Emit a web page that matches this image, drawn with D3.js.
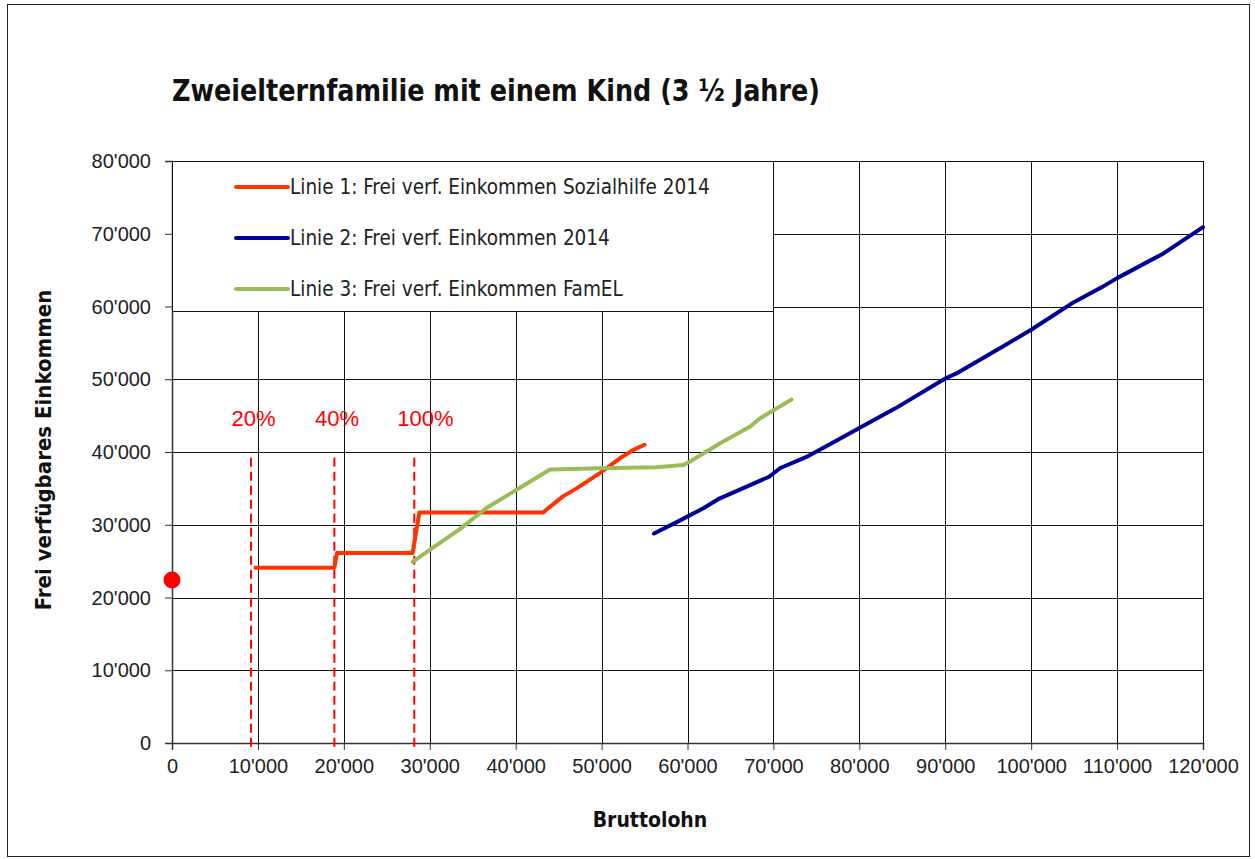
<!DOCTYPE html>
<html>
<head>
<meta charset="utf-8">
<script src="https://cdn.jsdelivr.net/npm/d3@7/dist/d3.min.js"></script>
<style>
  html, body { margin: 0; padding: 0; background: #fff; }
  svg { display: block; }
</style>
</head>
<body>
<svg id="chart" width="1255" height="859"></svg>
<script>
// Tick values for both axes
const xTicks = [0, 10000, 20000, 30000, 40000, 50000, 60000, 70000, 80000, 90000, 100000, 110000, 120000];
const yTicks = [0, 10000, 20000, 30000, 40000, 50000, 60000, 70000, 80000];

// Series: [Bruttolohn, frei verfügbares Einkommen]
const linie1 = [
  [9700, 24100], [18900, 24100], [19200, 26100], [28000, 26100], [28800, 31700],
  [43200, 31700], [45500, 33900], [47100, 35000], [49800, 37100], [52100, 39100],
  [53700, 40300], [55000, 41000]
];
const linie2 = [
  [56100, 28800], [58800, 30400], [61900, 32300], [63700, 33600], [69500, 36600],
  [70800, 37800], [74000, 39400], [77100, 41400], [80000, 43300], [84200, 46000],
  [90000, 50100], [91300, 50800], [96700, 54500], [100000, 56800], [104700, 60400],
  [108300, 62700], [110000, 63900], [115400, 67300], [120000, 70900]
];
const linie3 = [
  [28000, 24900], [33500, 29400], [36600, 32300], [40100, 34800], [44000, 37600],
  [49800, 37750], [56400, 37900], [59500, 38200], [60300, 38700], [63800, 41200],
  [67300, 43500], [68400, 44600], [72100, 47200]
];

// Income at zero earnings
const startPoint = [0, 22400];

// Threshold markers (dashed) and their labels
const thresholds = [9200, 18900, 28200];
const thresholdLabels = ["20%", "40%", "100%"];
const thresholdLabelX = [9500, 19200, 29500];
const thresholdLabelY = 43600;
const thresholdSpan = [-900, 39200];

const legendLabels = [
  "Linie 1: Frei verf. Einkommen Sozialhilfe 2014",
  "Linie 2: Frei verf. Einkommen 2014",
  "Linie 3: Frei verf. Einkommen FamEL"
];
const seriesColors = ["#ff3300", "#000099", "#9bbb59"];

const svg = d3.select("#chart");
const margin = { left: 172, top: 161, width: 1031, height: 582 };

const x = d3.scaleLinear().domain([0, 120000]).range([margin.left, margin.left + margin.width]);
const y = d3.scaleLinear().domain([0, 80000]).range([margin.top + margin.height, margin.top]);

const fmt = v => v === 0 ? "0" : d3.format(",")(v).replace(/,/g, "'");

// Outer frame
svg.append("rect")
  .attr("x", 7.5).attr("y", 4.5).attr("width", 1242).attr("height", 852)
  .attr("fill", "#fff").attr("stroke", "#222").attr("stroke-width", 1);

// Title
svg.append("text")
  .attr("x", 172).attr("y", 101)
  .attr("font-family", "'DejaVu Sans Condensed', 'DejaVu Sans', sans-serif")
  .attr("font-weight", "bold").attr("font-size", 30)
  .attr("textLength", 648).attr("lengthAdjust", "spacingAndGlyphs")
  .attr("fill", "#111")
  .text("Zweielternfamilie mit einem Kind (3 ½ Jahre)");

// Gridlines
const grid = svg.append("g").attr("stroke", "#111").attr("stroke-width", 1);
grid.selectAll("line.h").data(yTicks).join("line")
  .attr("class", "h")
  .attr("x1", margin.left).attr("x2", margin.left + margin.width)
  .attr("y1", d => Math.round(y(d)) + 0.5).attr("y2", d => Math.round(y(d)) + 0.5);
grid.selectAll("line.v").data(xTicks).join("line")
  .attr("class", "v")
  .attr("x1", d => Math.round(x(d)) + 0.5).attr("x2", d => Math.round(x(d)) + 0.5)
  .attr("y1", margin.top).attr("y2", margin.top + margin.height);

// Axes
const xAxis = d3.axisBottom(x).tickValues(xTicks).tickFormat(fmt).tickSize(7).tickPadding(6);
const yAxis = d3.axisLeft(y).tickValues(yTicks).tickFormat(fmt).tickSize(7).tickPadding(14);

const gx = svg.append("g").attr("transform", `translate(0,${margin.top + margin.height})`).call(xAxis);
const gy = svg.append("g").attr("transform", `translate(${margin.left},0)`).call(yAxis);
[gx, gy].forEach(g => {
  g.select(".domain").attr("stroke", "#333").attr("stroke-width", 1.5);
  g.selectAll(".tick line").attr("stroke", "#333");
  g.selectAll("text")
    .attr("font-family", "'Liberation Sans', Arial, sans-serif")
    .attr("font-size", 20).attr("fill", "#222");
});
gx.selectAll("text").attr("dy", "0.85em");
gy.selectAll("text").attr("dy", "0.33em");

// Axis titles
svg.append("text")
  .attr("x", 650).attr("y", 827)
  .attr("text-anchor", "middle")
  .attr("font-family", "'DejaVu Sans Condensed', 'DejaVu Sans', sans-serif")
  .attr("font-weight", "bold").attr("font-size", 21).attr("fill", "#111")
  .text("Bruttolohn");

svg.append("text")
  .attr("transform", "translate(51,450) rotate(-90)")
  .attr("text-anchor", "middle")
  .attr("font-family", "'DejaVu Sans Condensed', 'DejaVu Sans', sans-serif")
  .attr("font-weight", "bold").attr("font-size", 22).attr("fill", "#111")
  .text("Frei verfügbares Einkommen");

// Legend box (covers the upper-left grid area)
const legendBottom = 311;
const lg = svg.append("g");
lg.append("rect")
  .attr("x", margin.left + 0.5).attr("y", margin.top + 0.5)
  .attr("width", 773 - margin.left).attr("height", legendBottom - margin.top)
  .attr("fill", "#fff").attr("stroke", "#111").attr("stroke-width", 1);
const legendRows = [187, 238, 289];
legendLabels.forEach((label, i) => {
  lg.append("line")
    .attr("x1", 236).attr("x2", 288)
    .attr("y1", legendRows[i]).attr("y2", legendRows[i])
    .attr("stroke", seriesColors[i]).attr("stroke-width", 4).attr("stroke-linecap", "round");
  lg.append("text")
    .attr("x", 290).attr("y", legendRows[i]).attr("dy", "0.36em")
    .attr("font-family", "'DejaVu Sans Condensed', 'DejaVu Sans', sans-serif")
    .attr("font-size", 20.5).attr("fill", "#222")
    .text(label);
});

// Threshold dashed lines and labels
svg.append("g").selectAll("line").data(thresholds).join("line")
  .attr("x1", d => x(d)).attr("x2", d => x(d))
  .attr("y1", y(thresholdSpan[1])).attr("y2", y(thresholdSpan[0]))
  .attr("stroke", "#ff0000").attr("stroke-width", 2).attr("stroke-dasharray", "9,5");

svg.append("g").selectAll("text").data(thresholdLabels).join("text")
  .attr("x", (d, i) => x(thresholdLabelX[i])).attr("y", y(thresholdLabelY))
  .attr("text-anchor", "middle")
  .attr("font-family", "'Liberation Sans', Arial, sans-serif")
  .attr("font-size", 22).attr("fill", "#ff0000")
  .text(d => d);

// Series lines
const line = d3.line().x(d => x(d[0])).y(d => y(d[1]));
[linie1, linie2, linie3].forEach((s, i) => {
  svg.append("path")
    .datum(s)
    .attr("d", line)
    .attr("fill", "none")
    .attr("stroke", seriesColors[i])
    .attr("stroke-width", 4)
    .attr("stroke-linejoin", "round")
    .attr("stroke-linecap", "round");
});

// Point at zero earnings
svg.append("circle")
  .attr("cx", x(startPoint[0])).attr("cy", y(startPoint[1]))
  .attr("r", 8.5).attr("fill", "#ff0000");
</script>
</body>
</html>
